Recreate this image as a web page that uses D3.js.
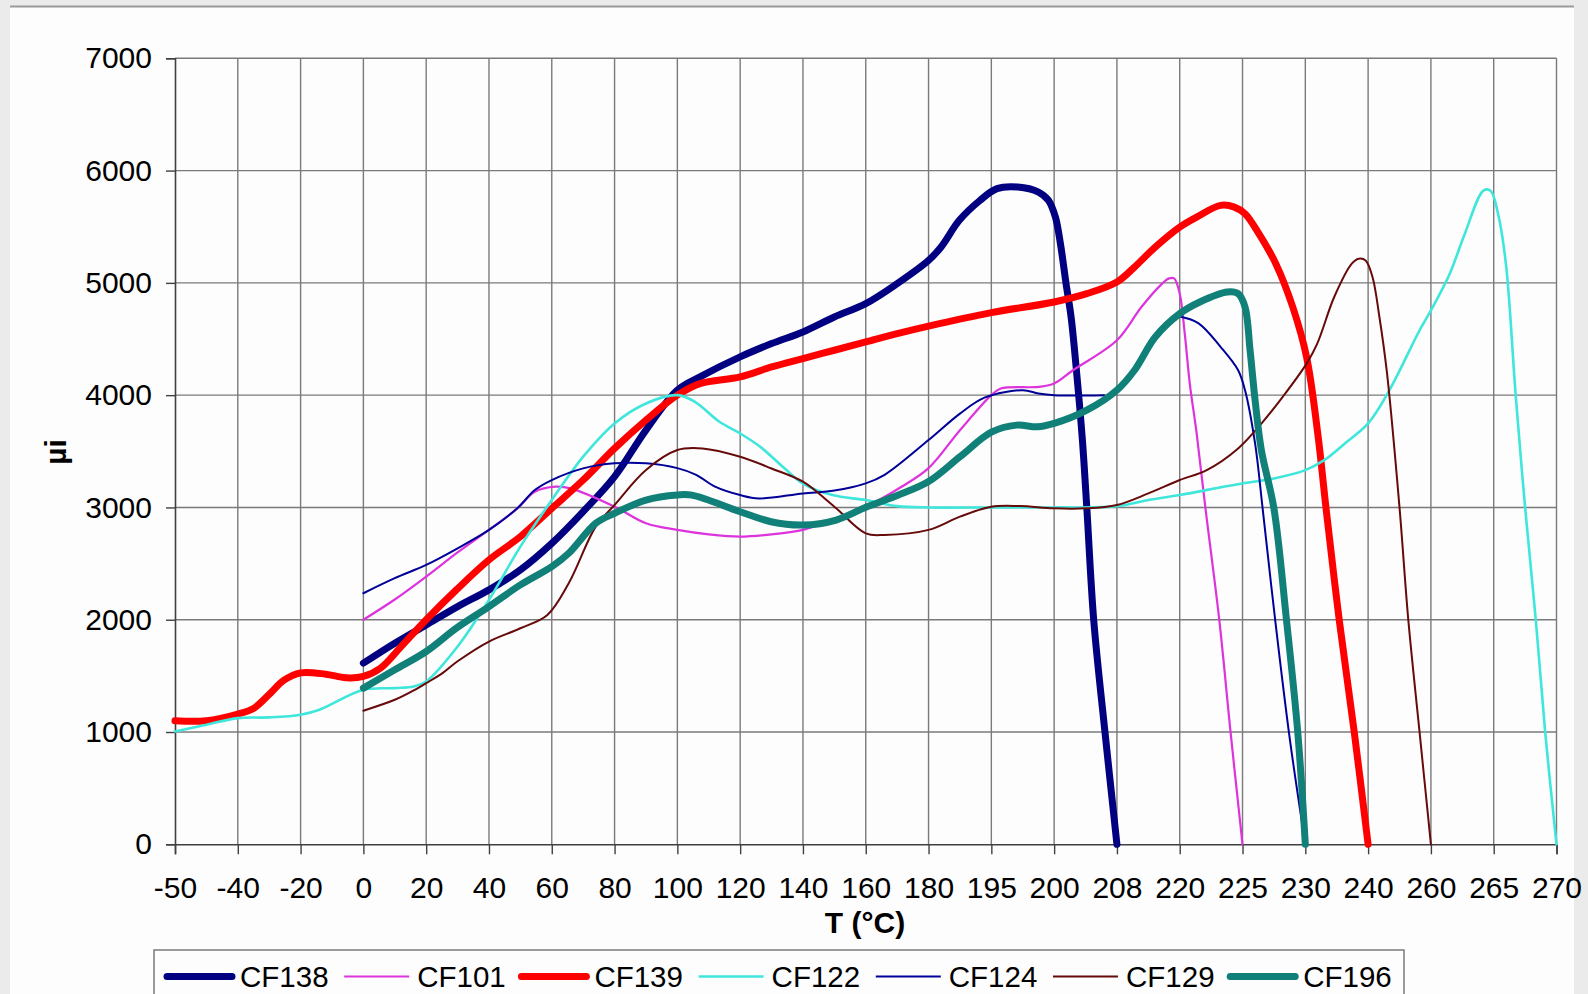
<!DOCTYPE html>
<html>
<head>
<meta charset="utf-8">
<script src="https://cdn.jsdelivr.net/npm/d3@7/dist/d3.min.js"></script>
<style>
  html, body { margin: 0; padding: 0; background: #ebebeb; }
  svg { display: block; font-family: "Liberation Sans", Arial, sans-serif; }
</style>
</head>
<body>
<svg id="chart" width="1588" height="994"></svg>
<script>
// Temperature columns of the category axis (one gridline per label).
const tempLabels = ["-50","-40","-20","0","20","40","60","80","100","120","140","160",
                    "180","195","200","208","220","225","230","240","260","265","270"];
const yTickValues = [0, 1000, 2000, 3000, 4000, 5000, 6000, 7000];

const seriesNames = ["CF138", "CF101", "CF139", "CF122", "CF124", "CF129", "CF196"];

// Readings as [slot, µi]; slot = position along the category axis
// (integer slots are the labelled columns, fractional slots fall between them).
const cf138 = [[3,1613],[3.5,1791],[4,1954],[4.5,2117],[5,2266],[5.5,2444],[6,2680],[6.5,2963],
  [7,3274],[7.5,3689],[8,4045],[8.36,4163],[9,4341],[9.5,4459],[10,4563],[10.5,4696],[11,4815],
  [11.5,4993],[12,5200],[12.2,5320],[12.49,5557],[12.82,5735],[13.09,5839],[13.42,5853],
  [13.75,5809],[13.91,5735],[14.02,5586],[14.1,5349],[14.19,4993],[14.27,4696],[14.35,4251],
  [14.45,3600],[14.52,3000],[14.63,2000],[14.81,996],[15,0]];
const cf101 = [[3,2000],[3.5,2180],[4,2384],[4.5,2600],[5,2800],[5.45,2990],[5.73,3140],
  [6.06,3185],[6.3,3170],[7,3007],[7.5,2859],[8,2800],[8.5,2760],[9,2740],[9.5,2760],[10,2800],
  [10.5,2900],[11,3006],[11.57,3184],[12,3350],[12.5,3688],[13,4000],[13.15,4059],[13.75,4074],
  [14,4104],[14.3,4222],[15,4489],[15.39,4785],[15.72,4993],[15.83,5040],[15.91,5040],[16,4904],
  [16.08,4548],[16.16,4103],[16.27,3658],[16.41,2991],[16.63,1998],[16.81,996],[17,0]];
const cf139 = [[0,1100],[0.5,1100],[1,1160],[1.25,1210],[1.52,1346],[1.73,1459],[2,1527],
  [2.4,1515],[2.72,1483],[3,1495],[3.27,1568],[3.6,1760],[4,2000],[4.48,2266],[5,2533],[5.5,2740],
  [6,2992],[6.5,3244],[7,3526],[7.5,3778],[8,4000],[8.36,4103],[9,4163],[9.5,4251],[10,4326],
  [10.5,4400],[11,4474],[11.5,4548],[12,4615],[13,4735],[14,4830],[14.52,4904],[15,5008],
  [15.28,5141],[15.61,5319],[16,5497],[16.27,5586],[16.65,5690],[16.87,5675],[17.04,5616],
  [17.26,5438],[17.53,5171],[17.8,4785],[18.02,4340],[18.2,3650],[18.33,2992],[18.54,1998],
  [18.78,996],[19,0]];
const cf122 = [[0,1005],[0.5,1065],[1,1124],[1.5,1130],[2,1154],[2.3,1198],[3,1376],[3.5,1391],
  [3.8,1406],[4,1450],[4.5,1761],[5,2177],[5.5,2651],[6,3066],[6.5,3452],[7,3748],[7.5,3926],
  [8,4000],[8.28,3941],[8.67,3763],[9,3659],[9.32,3540],[9.71,3347],[10,3213],[10.47,3110],
  [11,3066],[11.5,3012],[12,3000],[13,3000],[14,3000],[15,3010],[15.5,3066],[16,3110],[16.7,3184],
  [17,3214],[17.5,3258],[18,3332],[18.3,3421],[18.63,3570],[19,3748],[19.34,4045],[19.82,4578],
  [20,4755],[20.3,5082],[20.54,5438],[20.84,5824],[20.95,5820],[21.08,5586],[21.2,5141],
  [21.35,4000],[21.5,3000],[21.67,1998],[21.82,996],[22,0]];
const cf124 = [[3,2236],[3.5,2370],[4,2488],[4.5,2636],[5,2800],[5.45,2992],[5.73,3155],[6,3244],
  [6.5,3348],[7,3393],[7.5,3393],[8,3350],[8.3,3290],[8.6,3185],[9,3110],[9.3,3080],[10,3125],
  [10.5,3150],[11,3214],[11.3,3290],[12,3600],[12.5,3836],[12.9,3980],[13.5,4044],[13.75,4015],
  [14,4000],[14.8,4000],[15.4,null],[16,4700],[16.3,4640],[16.65,4430],[16.93,4222],[17.04,4044],
  [17.2,3570],[17.32,2992],[17.52,1998],[17.75,950],[18,0]];
const cf129 = [[3,1190],[3.5,1287],[3.82,1376],[4,1435],[4.26,1524],[4.5,1630],[5,1806],[5.5,1924],
  [5.93,2043],[6.27,2325],[6.7,2829],[7,3022],[7.5,3333],[8,3511],[8.4,3525],[9,3451],[9.5,3347],
  [10,3229],[10.5,3007],[11,2769],[11.3,2755],[12,2800],[12.5,2918],[13,3006],[13.45,3012],
  [14,2992],[14.5,2992],[15,3022],[15.5,3125],[16,3244],[16.43,3332],[16.93,3525],[17.3,3747],
  [17.64,3985],[18.02,4281],[18.19,4459],[18.46,4874],[18.74,5171],[18.85,5215],[18.96,5200],
  [19.07,5052],[19.18,4696],[19.3,4200],[19.5,3000],[19.64,1998],[19.82,996],[20,0]];
const cf196 = [[3,1391],[3.5,1554],[4,1717],[4.48,1925],[5,2117],[5.5,2310],[6,2473],[6.27,2592],
  [6.7,2859],[7,2948],[7.5,3066],[8,3111],[8.23,3110],[9,2962],[9.49,2873],[10,2843],[10.53,2888],
  [11.02,3006],[11.52,3110],[12,3230],[12.5,3451],[13,3670],[13.4,3733],[13.73,3718],[14,3748],
  [14.52,3866],[15,4045],[15.28,4222],[15.61,4518],[16,4726],[16.32,4830],[16.76,4919],
  [16.93,4904],[17.04,4785],[17.12,4400],[17.2,3955],[17.3,3510],[17.5,2992],[17.7,1998],
  [17.88,996],[18,0]];

const seriesValues = [cf138, cf101, cf139, cf122, cf124, cf129, cf196];

// Stroke style per series (same order as seriesNames).
const seriesStyles = [
  { color: "#000080", width: 7 },
  { color: "#dd33dd", width: 2.2 },
  { color: "#ff0000", width: 7 },
  { color: "#3fe6dc", width: 2.6 },
  { color: "#000099", width: 2 },
  { color: "#660a0a", width: 2 },
  { color: "#108078", width: 7 }
];

const svg = d3.select("#chart");
const W = 1588, H = 994;

// chart area frame
svg.append("rect").attr("x", 0).attr("y", 0).attr("width", W).attr("height", H).attr("fill", "#ebebeb");
svg.append("rect").attr("x", 10).attr("y", 7).attr("width", 1564).attr("height", H).attr("fill", "#fdfdfd");
svg.append("line").attr("x1", 10).attr("x2", 1574).attr("y1", 6.5).attr("y2", 6.5)
  .attr("stroke", "#9a9a9a").attr("stroke-width", 2);

const plot = { left: 175, right: 1556.5, top: 58.3, bottom: 844.3 };

const x = d3.scaleLinear().domain([0, tempLabels.length - 1]).range([plot.left, plot.right]);
const y = d3.scaleLinear().domain([0, 7000]).range([plot.bottom, plot.top]);

const gridColor = "#7a7a7a";

// horizontal gridlines
svg.append("g").selectAll("line").data(yTickValues.filter(v => v > 0)).join("line")
  .attr("x1", plot.left).attr("x2", plot.right)
  .attr("y1", d => y(d)).attr("y2", d => y(d))
  .attr("stroke", gridColor).attr("stroke-width", 1.4);

// vertical gridlines
svg.append("g").selectAll("line").data(d3.range(1, tempLabels.length)).join("line")
  .attr("x1", d => x(d)).attr("x2", d => x(d))
  .attr("y1", plot.top).attr("y2", plot.bottom)
  .attr("stroke", gridColor).attr("stroke-width", 1.4);

// y axis
const yAxis = d3.axisLeft(y).tickValues(yTickValues).tickSize(9).tickPadding(14).tickFormat(d3.format("d"));
const gy = svg.append("g").attr("transform", `translate(${plot.left},0)`).call(yAxis);
gy.select(".domain").attr("stroke", "#404040").attr("stroke-width", 1.6);
gy.selectAll(".tick line").attr("stroke", "#404040").attr("stroke-width", 1.4);
gy.selectAll(".tick text").attr("font-size", 30).attr("fill", "#000")
  .attr("font-family", "Liberation Sans, Arial, sans-serif");

// x axis (categories)
const xAxis = d3.axisBottom(x).tickValues(d3.range(tempLabels.length))
  .tickFormat(i => tempLabels[i]).tickSize(10).tickPadding(22);
const gx = svg.append("g").attr("transform", `translate(0,${plot.bottom})`).call(xAxis);
gx.select(".domain").attr("stroke", "#404040").attr("stroke-width", 1.6);
gx.selectAll(".tick line").attr("stroke", "#404040").attr("stroke-width", 1.4);
gx.selectAll(".tick text").attr("font-size", 30).attr("fill", "#000")
  .attr("font-family", "Liberation Sans, Arial, sans-serif");

// axis titles
svg.append("text").attr("x", 865).attr("y", 933).attr("text-anchor", "middle")
  .attr("font-size", 30).attr("font-weight", "bold").text("T (°C)");
svg.append("text").attr("transform", "translate(66,452) rotate(-90)").attr("text-anchor", "middle")
  .attr("font-size", 30).attr("font-weight", "bold").text("µi");

// series lines
const line = d3.line()
  .defined(d => d[1] != null)
  .x(d => x(d[0]))
  .y(d => y(d[1]))
  .curve(d3.curveCatmullRom.alpha(0.5));

const gLines = svg.append("g");
seriesValues.forEach((vals, i) => {
  gLines.append("path")
    .datum(vals)
    .attr("fill", "none")
    .attr("stroke", seriesStyles[i].color)
    .attr("stroke-width", seriesStyles[i].width)
    .attr("stroke-linejoin", "round")
    .attr("stroke-linecap", "round")
    .attr("d", line);
});

// legend
const legend = svg.append("g");
legend.append("rect").attr("x", 154).attr("y", 950).attr("width", 1250).attr("height", 70)
  .attr("fill", "#fdfdfd").attr("stroke", "#7a7a7a").attr("stroke-width", 1.5);
const legendStart = 240, legendStep = 177.2;
seriesNames.forEach((name, i) => {
  const tx = legendStart + i * legendStep;
  legend.append("line")
    .attr("x1", tx - 73).attr("x2", tx - 8)
    .attr("y1", 976.5).attr("y2", 976.5)
    .attr("stroke", seriesStyles[i].color)
    .attr("stroke-width", seriesStyles[i].width)
    .attr("stroke-linecap", seriesStyles[i].width > 4 ? "round" : "butt");
  legend.append("text").attr("x", tx).attr("y", 986.5)
    .attr("font-size", 29.5).attr("fill", "#000").text(name);
});
</script>
</body>
</html>
